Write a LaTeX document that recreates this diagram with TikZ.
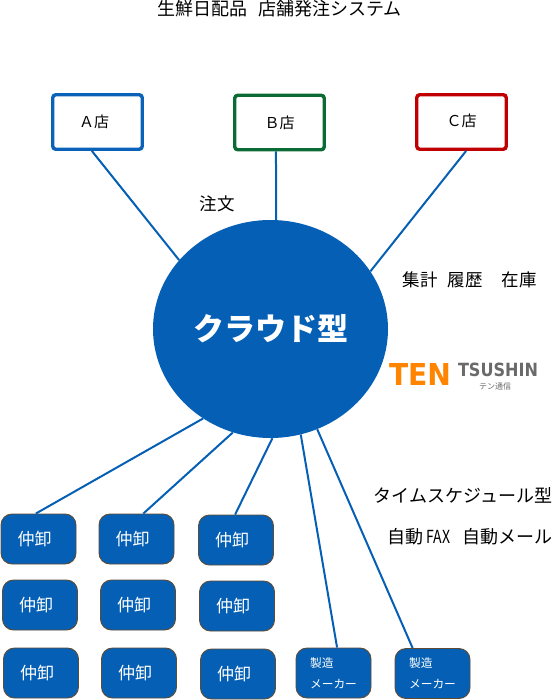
\documentclass[tikz,border=0pt]{standalone}
\usepackage{fontspec}
\usepackage{xcolor}
\usetikzlibrary{shapes.geometric}
\setmainfont{Noto Sans CJK JP}
\newfontfamily\logofont{DejaVu Sans}
\definecolor{cloudblue}{HTML}{0560B5}
\definecolor{storeblue}{HTML}{0A63B8}
\definecolor{storegreen}{HTML}{0B6B35}
\definecolor{storered}{HTML}{C00000}
\definecolor{boxedge}{HTML}{5F4B32}
\definecolor{logoorange}{HTML}{FF8400}
\definecolor{logogray}{HTML}{6A6A6A}
\newcommand{\tradertext}{仲卸\kern8pt}
\tikzset{
  store/.style={draw, line width=3.4pt, rounded corners=3pt, minimum width=89.5pt, minimum height=54.5pt, inner sep=0pt, font=\fontsize{15}{17}\selectfont},
  trader/.style={draw=boxedge, fill=cloudblue, text=white, line width=0.9pt, rounded corners=11pt, minimum width=75pt, minimum height=50pt, inner sep=0pt, font=\fontsize{17}{19}\selectfont},
  maker/.style={trader, align=left, font=\fontsize{11.7}{21}\selectfont},
  label/.style={inner sep=0pt, font=\fontsize{17.5}{20}\selectfont},
  widelabel/.style={label, font=\fontsize{18}{20}\selectfont},
  link/.style={cloudblue, line width=2pt}
}

\begin{document}
\begin{tikzpicture}[x=1pt, y=-1pt]
    \useasboundingbox (0,0) rectangle (553,700);

    % Draw the stores
    \node[store, draw=storeblue] (storea) at (97.5,122) {\raisebox{-2pt}{Ａ店}\kern7pt};
    \node[store, draw=storegreen] (storeb) at (279.5,122.5) {\raisebox{1.5pt}{Ｂ店}};
    \node[store, draw=storered] (storec) at (461.5,122) {\raisebox{3pt}{Ｃ店}};

    % Draw the cloud
    \node[ellipse, fill=cloudblue, text=white, minimum width=235pt, minimum height=218pt, inner sep=0pt, font=\bfseries\fontsize{31}{34}\selectfont] (cloud) at (270.5,329) {クラウド型};

    % Draw the wholesalers
    \node[trader] (tradera) at (38.5,539) {\tradertext};
    \node[trader] (traderb) at (136.5,539) {\tradertext};
    \node[trader] (traderc) at (236,540) {\tradertext};
    \node[trader] (traderd) at (40,605) {\tradertext};
    \node[trader] (tradere) at (138,605) {\tradertext};
    \node[trader] (traderf) at (237,606) {\tradertext};
    \node[trader] (traderg) at (41,673) {\tradertext};
    \node[trader] (traderh) at (139,673) {\tradertext};
    \node[trader] (traderi) at (238,674) {\tradertext};

    % Draw the makers
    \node[maker] (makera) at (333.5,673) {製造\\メーカー};
    \node[maker] (makerb) at (432.5,673.5) {製造\\メーカー};

    % Draw the links
    \draw[link] (storea.259) -- (cloud.143.5);
    \draw[link] (storeb.263) -- (cloud.87.6);
    \draw[link] (storec.279) -- (cloud.30.7);
    \draw[link] (tradera.96) -- (cloud.233.2);
    \draw[link] (traderb.75) -- (cloud.250.3);
    \draw[link] (traderc.92) -- (cloud.271.9);
    \draw[link] (makera.82) -- (cloud.286.3);
    \draw[link] (makerb.128) -- (cloud.295.6);

    % Add the text
    \node[widelabel] (title) at (279.5,9) {生鮮日配品\hspace{11pt}店舗発注システム};
    \node[label] (order) at (217,204) {注文};
    \node[label] (total) at (469.5,280) {集計\hspace{10pt}履歴\hspace{19pt}在庫};
    \node[widelabel] (schedule) at (463,495) {タイムスケジュール型};
    \node[widelabel] (fax) at (470,537) {自動\hspace{3pt}\scalebox{0.78}[1]{FAX}\hspace{12pt}自動メール};

    % Add the logo
    \node[inner sep=0pt, text=logoorange, font=\logofont\bfseries] (logoten) at (420,374) {\resizebox{62pt}{22pt}{TEN}};
    \node[inner sep=0pt, text=logogray, font=\logofont\bfseries] (logotsushin) at (498,370) {\resizebox{80pt}{13.5pt}{TSUSHIN}};
    \node[inner sep=0pt, text=logogray, font=\fontsize{8}{9}\selectfont] (logokana) at (495,386) {テン通信};
\end{tikzpicture}
\end{document}
